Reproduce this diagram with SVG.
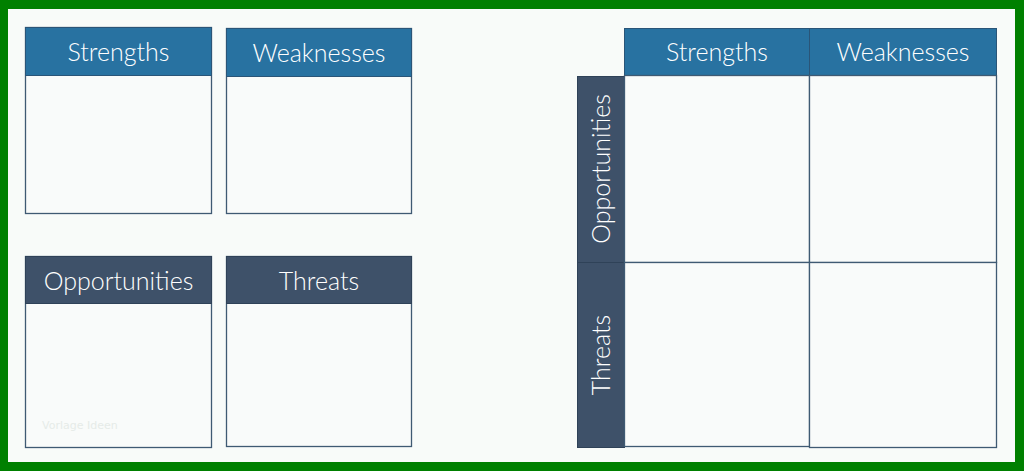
<svg xmlns="http://www.w3.org/2000/svg" width="1024" height="471" viewBox="0 0 1024 471">
<style>
.cell{fill:#f9fbfa;stroke:#3f5a73;stroke-width:1.3}
.hb{fill:#2872a1;stroke:#2a5578;stroke-width:1}
.hd{fill:#3e5169;stroke:#2f4258;stroke-width:1}
.t{font-family:Lato,"Open Sans",sans-serif;font-size:25px;font-weight:300;fill:#ffffff;text-anchor:middle;dominant-baseline:central}
</style>
<rect x="0" y="0" width="1024" height="471" fill="#008000"/>
<rect x="8" y="9" width="1007" height="453" fill="#f8fbf9"/>
<g id="strengths-card">
<rect class="cell" x="25.5" y="27.5" width="186" height="186"/>
<rect class="hb" x="25.5" y="27.5" width="186" height="48"/>
<text class="t" x="118.5" y="51">Strengths</text>
</g>
<g id="weaknesses-card">
<rect class="cell" x="226.5" y="28.5" width="185" height="185"/>
<rect class="hb" x="226.5" y="28.5" width="185" height="48"/>
<text class="t" x="319" y="52">Weaknesses</text>
</g>
<g id="opportunities-card">
<rect class="cell" x="25.5" y="256.5" width="186" height="191"/>
<rect class="hd" x="25.5" y="256.5" width="186" height="47"/>
<text class="t" x="118.5" y="280">Opportunities</text>
</g>
<g id="threats-card">
<rect class="cell" x="226.5" y="256.5" width="185" height="190"/>
<rect class="hd" x="226.5" y="256.5" width="185" height="47"/>
<text class="t" x="319" y="280">Threats</text>
</g>
<text x="42" y="429" font-family="DejaVu Sans,sans-serif" font-size="11" fill="#e6ebe8">Vorlage Ideen</text>
<g id="matrix">
<g id="m-strengths">
<rect class="hb" x="624.5" y="28.5" width="185" height="47"/>
<text class="t" x="717" y="51">Strengths</text>
</g>
<g id="m-weaknesses">
<rect class="hb" x="809.5" y="28.5" width="187" height="47"/>
<text class="t" x="903" y="51">Weaknesses</text>
</g>
<g id="m-opportunities">
<rect class="hd" x="577.5" y="76.5" width="47" height="186"/>
<text class="t" transform="translate(600 169) rotate(-90)">Opportunities</text>
</g>
<g id="m-threats">
<rect class="hd" x="577.5" y="262.5" width="47" height="185"/>
<text class="t" transform="translate(600 355) rotate(-90)">Threats</text>
</g>
<g id="cell-so"><rect class="cell" x="624.5" y="75.5" width="185" height="187"/></g>
<g id="cell-wo"><rect class="cell" x="809.5" y="75.5" width="187" height="187"/></g>
<g id="cell-st"><rect class="cell" x="624.5" y="262.5" width="185" height="184"/></g>
<g id="cell-wt"><rect class="cell" x="809.5" y="262.5" width="187" height="185"/></g>
</g>
<g id="connectors"/>
</svg>
